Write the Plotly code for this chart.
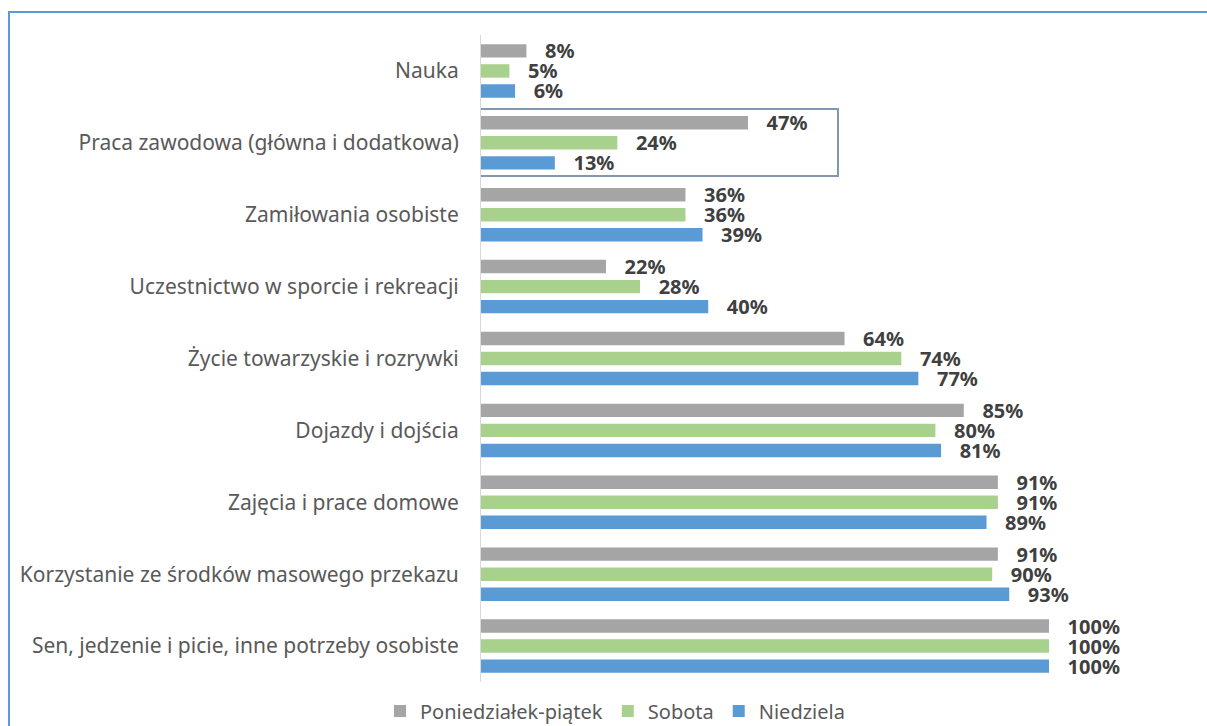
import plotly.graph_objects as go

categories = [
    "Nauka",
    "Praca zawodowa (główna i dodatkowa)",
    "Zamiłowania osobiste",
    "Uczestnictwo w sporcie i rekreacji",
    "Życie towarzyskie i rozrywki",
    "Dojazdy i dojścia",
    "Zajęcia i prace domowe",
    "Korzystanie ze środków masowego przekazu",
    "Sen, jedzenie i picie, inne potrzeby osobiste",
]
series_names = ["Poniedziałek-piątek", "Sobota", "Niedziela"]
pon_pt = [8, 47, 36, 22, 64, 85, 91, 91, 100]
sobota = [5, 24, 36, 28, 74, 80, 91, 90, 100]
niedziela = [6, 13, 39, 40, 77, 81, 89, 93, 100]
colors = ["#a5a5a5", "#a9d18e", "#5b9bd5"]

W, H = 1207, 726
ML, MR, MT, MB = 481, 158, 35, 44
PW = W - ML - MR
PH = H - MT - MB

fig = go.Figure()
for name, vals, col in zip(series_names, [pon_pt, sobota, niedziela], colors):
    fig.add_trace(go.Bar(
        y=categories, x=vals, name=name, orientation="h",
        marker=dict(color=col, line=dict(width=0)),
        texttemplate="\u00a0\u00a0\u00a0%{x}%", textposition="outside",
        textfont=dict(family="Noto Sans", size=20, color="#404040", weight="bold"),
        constraintext="none", cliponaxis=False,
        hoverinfo="skip",
    ))

def px_to_x(px):
    return (px - ML) / PW * 100

def py_to_paper(py):
    return (H - MB - py) / PH

# highlight box around "Praca zawodowa"
fig.add_shape(type="rect", xref="x", yref="y",
              x0=px_to_x(42), x1=px_to_x(838), y0=0.53, y1=1.46,
              line=dict(color="#8497b0", width=2), layer="above")

# outer chart border (top and left visible)
fig.add_shape(type="rect", xref="paper", yref="paper",
              x0=(9 - ML) / PW, x1=1.6, y0=py_to_paper(12), y1=-0.5,
              line=dict(color="#5b9bd5", width=2), layer="below")

fig.update_layout(
    width=W, height=H,
    margin=dict(l=ML, r=MR, t=MT, b=MB, autoexpand=False),
    paper_bgcolor="white", plot_bgcolor="white",
    barmode="group", bargap=0.164, bargroupgap=0.33,
    font=dict(family="Noto Sans", size=21, color="#595959"),
    showlegend=True,
    legend=dict(orientation="h", x=px_to_x(615) / 100, xanchor="center",
                y=py_to_paper(711), yanchor="middle",
                font=dict(size=20, color="#595959"), traceorder="normal",
                bgcolor="rgba(0,0,0,0)", itemwidth=30),
    xaxis=dict(range=[0, 100], showgrid=False, zeroline=False, showticklabels=False,
               showline=False, fixedrange=True),
    yaxis=dict(autorange="reversed", showgrid=False, zeroline=False, showline=True,
               linecolor="#d9d9d9", linewidth=1, ticks="", ticklabelstandoff=17,
               tickfont=dict(size=21, color="#595959"), fixedrange=True),
)

fig.write_html("out.html", config={"displayModeBar": False},
               post_script="document.body.style.margin='0';")
